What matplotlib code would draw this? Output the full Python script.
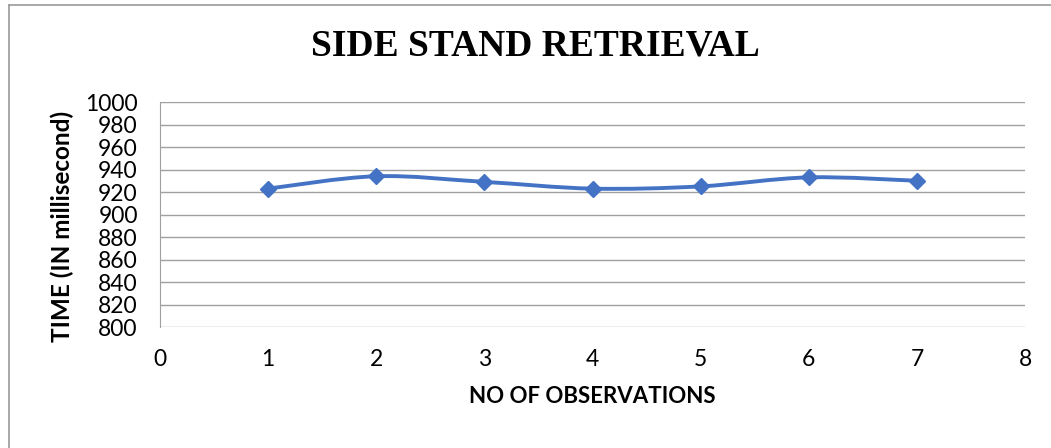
import matplotlib
matplotlib.use("Agg")
import matplotlib.pyplot as plt
from matplotlib.path import Path
from matplotlib.patches import PathPatch
from matplotlib.lines import Line2D
import numpy as np

# observations and measured times (ms)
observations = [1, 2, 3, 4, 5, 6, 7]
times = [923, 934, 929, 923, 925, 933, 930]
y_ticks = list(range(800, 1001, 20))
x_ticks = list(range(0, 9))

blue = "#4472C4"
grid_col = "#A0A0A0"

fig = plt.figure(figsize=(10.51, 4.48), dpi=100)
ax = fig.add_axes([160 / 1051, 1 - 327 / 448, 865 / 1051, 225 / 448])

# smoothed line like the spreadsheet one (bezier through the points)
x = np.array(observations, dtype=float)
y = np.array(times, dtype=float)
verts = [(x[0], y[0])]
codes = [Path.MOVETO]
n = len(x)
for i in range(n - 1):
    p0 = i - 1 if i > 0 else i
    p3 = i + 2 if i + 2 < n else i + 1
    c1 = (x[i] + (x[i + 1] - x[p0]) / 6, y[i] + (y[i + 1] - y[p0]) / 6)
    c2 = (x[i + 1] - (x[p3] - x[i]) / 6, y[i + 1] - (y[p3] - y[i]) / 6)
    verts += [c1, c2, (x[i + 1], y[i + 1])]
    codes += [Path.CURVE4] * 3
ax.add_patch(PathPatch(Path(verts, codes), facecolor="none", edgecolor=blue,
                       lw=2.8, capstyle="round", zorder=3))
ax.plot(observations, times, linestyle="none", marker="D", markersize=8,
        color=blue, zorder=4)

ax.set_xlim(0, 8)
ax.set_ylim(800, 1000)
ax.set_xticks(x_ticks)
ax.set_yticks(y_ticks)
ax.yaxis.grid(True, color=grid_col, lw=1.0)
ax.set_axisbelow(True)
for s in ["top", "right", "bottom"]:
    ax.spines[s].set_visible(False)
ax.spines["left"].set_color(grid_col)
ax.tick_params(length=0, labelsize=16.5, pad=16)
ax.tick_params(axis="x", pad=16)
for lab in ax.get_xticklabels() + ax.get_yticklabels():
    lab.set_fontfamily("Lato")

ax.set_xlabel("NO OF OBSERVATIONS", fontsize=16, fontweight="bold",
              fontfamily="Lato", labelpad=11)
ax.set_ylabel("TIME (IN millisecond)", fontsize=17.5, fontweight="bold",
              fontfamily="Lato", va="center")
ax.yaxis.set_label_coords(-98 / 865, 0.445)
fig.text(0.509, 1 - 46 / 448, "SIDE STAND RETRIEVAL", ha="center", va="center",
         fontsize=27, fontweight="bold", fontfamily="Liberation Serif")

# chart frame, only left and top edges are visible in the crop
bx, by = 8.5 / 1051, 1 - 5.5 / 448
fig.add_artist(Line2D([bx, bx], [0, by], color="#999999", lw=1.2, transform=fig.transFigure))
fig.add_artist(Line2D([bx, 1], [by, by], color="#999999", lw=1.2, transform=fig.transFigure))

fig.savefig("out.png", dpi=100)
